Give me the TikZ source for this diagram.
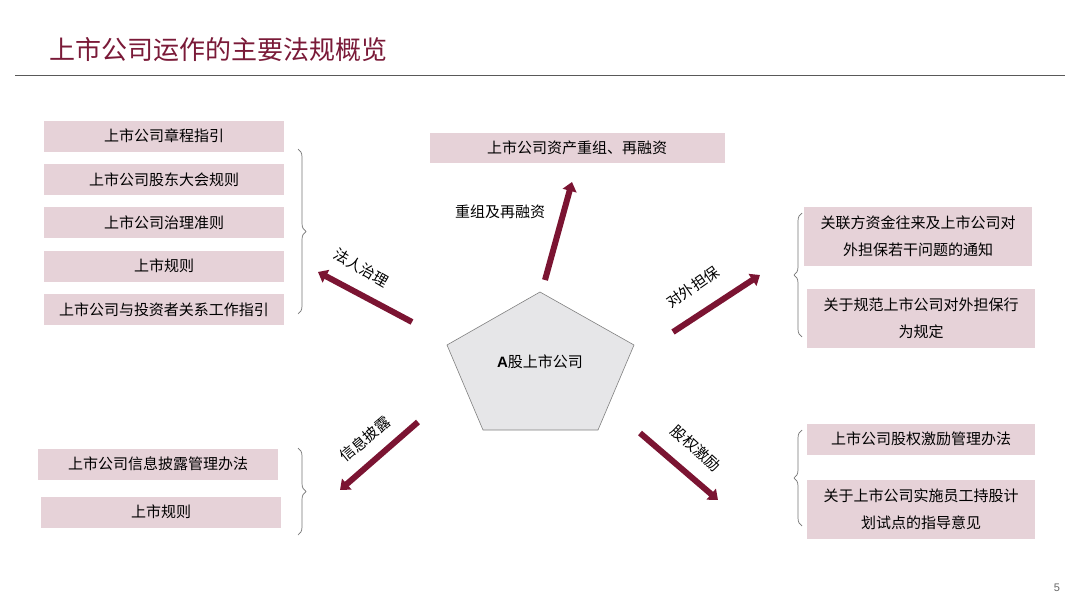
\documentclass[tikz,border=0pt]{standalone}
\usepackage{fontspec}
\setmainfont{Liberation Sans}
\newfontfamily\cjk{Noto Sans CJK SC}
\usepackage{tikz}
\usetikzlibrary{positioning,arrows.meta,decorations.pathreplacing,calc}
\definecolor{wine}{HTML}{7B1432}
\definecolor{titlered}{HTML}{7A1A38}
\definecolor{rose}{HTML}{E6D2D8}
\definecolor{core}{HTML}{E6E6E8}

\begin{document}
\begin{tikzpicture}[
  x=1pt,y=-1pt,
  font=\cjk\fontsize{15}{27}\selectfont,
  rule/.style={draw=black!65,line width=1pt},
  law/.style={fill=rose,align=center,inner sep=2pt,
              minimum width=240pt,minimum height=31pt},
  lawtwo/.style={law,minimum width=228pt,minimum height=59pt},
  push/.style={draw=wine,line width=6pt,-{Triangle[length=9pt,width=14pt]}},
  tag/.style={font=\cjk\fontsize{15}{18}\selectfont,inner sep=1pt},
  curly/.style={draw=black!55,line width=0.7pt,decorate,
                decoration={brace,amplitude=8pt}},
]
\useasboundingbox (0,0) rectangle (1080,608);
% ---------- title ----------
\node[anchor=west,text=titlered,font=\cjk\fontsize{26}{30}\selectfont] (title) at (46,50)
   {上市公司运作的主要法规概览};
\coordinate (ruleL) at (15,75);
\coordinate (ruleR) at (1065,75);
\draw[rule] (ruleL) -- (ruleR);
% ---------- centre ----------
\coordinate (p1) at (540,292);
\coordinate (p2) at (634,345);
\coordinate (p3) at (598,430);
\coordinate (p4) at (483,430);
\coordinate (p5) at (447,345);
\draw[fill=core,draw=black!50,line width=0.6pt] (p1) -- (p2) -- (p3) -- (p4) -- (p5) -- cycle;
\node[font=\cjk\fontsize{15}{18}\selectfont] (firm) at (540,362)
   {\textbf{\fontspec{Liberation Sans}A}股上市公司};
% ---------- governance (upper left) ----------
\node[law] (g1) at (164,136) {上市公司章程指引};
\node[law,below=12pt of g1] (g2) {上市公司股东大会规则};
\node[law,below=12pt of g2] (g3) {上市公司治理准则};
\node[law,below=12pt of g3] (g4) {上市规则};
\node[law,below=12pt of g4] (g5) {上市公司与投资者关系工作指引};
\coordinate (bgT) at (298,149);
\coordinate (bgB) at (298,314);
\draw[curly] (bgT) -- (bgB);
\coordinate (agS) at (412,322);
\coordinate (agE) at (318,272);
\draw[push] (agS) -- (agE);
\node[tag,rotate=-30] (tg) at (361,268) {法人治理};
% ---------- restructuring (top) ----------
\node[law,minimum width=295pt,minimum height=30pt] (r1) at (577,148) {上市公司资产重组、再融资};
\coordinate (arS) at (545,280);
\coordinate (arE) at (572,182);
\draw[push] (arS) -- (arE);
\node[tag] (tr) at (500,212) {重组及再融资};
% ---------- guarantees (upper right) ----------
\node[lawtwo] (d1) at (918,236) {关联方资金往来及上市公司对\\外担保若干问题的通知};
\node[lawtwo] (d2) at (921,318) {关于规范上市公司对外担保行\\为规定};
\coordinate (bdT) at (802,213);
\coordinate (bdB) at (802,337);
\draw[curly] (bdB) -- (bdT);
\coordinate (adS) at (673,332);
\coordinate (adE) at (760,275);
\draw[push] (adS) -- (adE);
\node[tag,rotate=35] (td) at (693,287) {对外担保};
% ---------- disclosure (lower left) ----------
\node[law] (i1) at (158,464) {上市公司信息披露管理办法};
\node[law] (i2) at (161,512) {上市规则};
\coordinate (biT) at (298,448);
\coordinate (biB) at (298,535);
\draw[curly] (biT) -- (biB);
\coordinate (aiS) at (418,422);
\coordinate (aiE) at (340,490);
\draw[push] (aiS) -- (aiE);
\node[tag,rotate=40] (ti) at (365,439) {信息披露};
% ---------- incentives (lower right) ----------
\node[law,minimum width=228pt] (e1) at (921,439) {上市公司股权激励管理办法};
\node[lawtwo] (e2) at (921,509) {关于上市公司实施员工持股计\\划试点的指导意见};
\coordinate (beT) at (802,430);
\coordinate (beB) at (802,526);
\draw[curly] (beB) -- (beT);
\coordinate (aeS) at (640,433);
\coordinate (aeE) at (718,500);
\draw[push] (aeS) -- (aeE);
\node[tag,rotate=-42] (te) at (696,448) {股权激励};
% page number
\node[text=black!60,font=\fontsize{11}{13}\selectfont] (page) at (1057,588) {5};
\end{tikzpicture}
\end{document}
